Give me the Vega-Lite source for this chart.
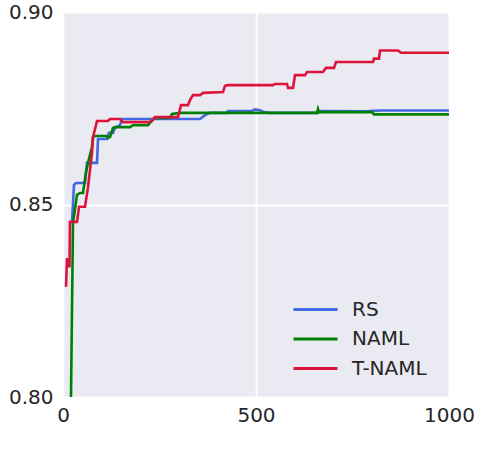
{
  "$schema": "https://vega.github.io/schema/vega-lite/v6.json",
  "autosize": {"type": "none"},
  "padding": {"left": 63, "top": 12, "right": 51, "bottom": 64},
  "width": 386,
  "height": 385,
  "background": "white",
  "config": {
    "font": "DejaVu Sans",
    "view": {"fill": "#EAEAF2", "stroke": null},
    "axis": {
      "domain": false,
      "ticks": false,
      "grid": true,
      "gridColor": "white",
      "gridWidth": 1.8,
      "labelFont": "DejaVu Sans",
      "labelFontSize": 20,
      "labelColor": "#262626",
      "labelFlush": false,
      "title": null
    },
    "legend": {
      "labelFont": "DejaVu Sans",
      "labelFontSize": 20,
      "labelColor": "#262626"
    }
  },
  "data": {
    "values": [
      {"s": "RS", "x": 23.3, "y": 0.8455},
      {"s": "RS", "x": 28.5, "y": 0.8551},
      {"s": "RS", "x": 33.7, "y": 0.8556},
      {"s": "RS", "x": 57, "y": 0.8556},
      {"s": "RS", "x": 62.2, "y": 0.8608},
      {"s": "RS", "x": 88.1, "y": 0.8608},
      {"s": "RS", "x": 90.7, "y": 0.867},
      {"s": "RS", "x": 114, "y": 0.867},
      {"s": "RS", "x": 119.2, "y": 0.8686},
      {"s": "RS", "x": 129.5, "y": 0.8686},
      {"s": "RS", "x": 134.7, "y": 0.8699},
      {"s": "RS", "x": 147.7, "y": 0.8706},
      {"s": "RS", "x": 152.8, "y": 0.8722},
      {"s": "RS", "x": 354.9, "y": 0.8722},
      {"s": "RS", "x": 367.9, "y": 0.8732},
      {"s": "RS", "x": 380.8, "y": 0.8738},
      {"s": "RS", "x": 422.3, "y": 0.8738},
      {"s": "RS", "x": 427.5, "y": 0.8743},
      {"s": "RS", "x": 489.6, "y": 0.8743},
      {"s": "RS", "x": 497.4, "y": 0.8747},
      {"s": "RS", "x": 510.4, "y": 0.8745},
      {"s": "RS", "x": 520.7, "y": 0.874},
      {"s": "RS", "x": 536.3, "y": 0.8738},
      {"s": "RS", "x": 660.6, "y": 0.8738},
      {"s": "RS", "x": 665.8, "y": 0.8743},
      {"s": "RS", "x": 782.4, "y": 0.8742},
      {"s": "RS", "x": 821.2, "y": 0.8744},
      {"s": "RS", "x": 1000, "y": 0.8744},
      {"s": "NAML", "x": 20.7, "y": 0.8},
      {"s": "NAML", "x": 25.9, "y": 0.8452},
      {"s": "NAML", "x": 36.3, "y": 0.8525},
      {"s": "NAML", "x": 44, "y": 0.853},
      {"s": "NAML", "x": 51.8, "y": 0.853},
      {"s": "NAML", "x": 59.6, "y": 0.8584},
      {"s": "NAML", "x": 64.8, "y": 0.8608},
      {"s": "NAML", "x": 75.1, "y": 0.8649},
      {"s": "NAML", "x": 77.7, "y": 0.8675},
      {"s": "NAML", "x": 82.9, "y": 0.8678},
      {"s": "NAML", "x": 114, "y": 0.8678},
      {"s": "NAML", "x": 116.6, "y": 0.8673},
      {"s": "NAML", "x": 121.8, "y": 0.8675},
      {"s": "NAML", "x": 129.5, "y": 0.8699},
      {"s": "NAML", "x": 134.7, "y": 0.8701},
      {"s": "NAML", "x": 173.6, "y": 0.8701},
      {"s": "NAML", "x": 181.3, "y": 0.8706},
      {"s": "NAML", "x": 220.2, "y": 0.8706},
      {"s": "NAML", "x": 225.4, "y": 0.8712},
      {"s": "NAML", "x": 238.3, "y": 0.8725},
      {"s": "NAML", "x": 277.2, "y": 0.8725},
      {"s": "NAML", "x": 282.4, "y": 0.8735},
      {"s": "NAML", "x": 303.1, "y": 0.8738},
      {"s": "NAML", "x": 658, "y": 0.8738},
      {"s": "NAML", "x": 660.6, "y": 0.8748},
      {"s": "NAML", "x": 663, "y": 0.874},
      {"s": "NAML", "x": 800.5, "y": 0.874},
      {"s": "NAML", "x": 805.7, "y": 0.8734},
      {"s": "NAML", "x": 1000, "y": 0.8734},
      {"s": "T-NAML", "x": 7.8, "y": 0.8286},
      {"s": "T-NAML", "x": 10.4, "y": 0.8361},
      {"s": "T-NAML", "x": 14.2, "y": 0.834},
      {"s": "T-NAML", "x": 16.8, "y": 0.834},
      {"s": "T-NAML", "x": 18.1, "y": 0.8455},
      {"s": "T-NAML", "x": 36.3, "y": 0.8455},
      {"s": "T-NAML", "x": 41.5, "y": 0.8494},
      {"s": "T-NAML", "x": 57, "y": 0.8494},
      {"s": "T-NAML", "x": 64.8, "y": 0.8545},
      {"s": "T-NAML", "x": 75.1, "y": 0.8634},
      {"s": "T-NAML", "x": 77.7, "y": 0.8675},
      {"s": "T-NAML", "x": 88.1, "y": 0.8717},
      {"s": "T-NAML", "x": 116.6, "y": 0.8717},
      {"s": "T-NAML", "x": 121.8, "y": 0.8722},
      {"s": "T-NAML", "x": 147.7, "y": 0.8722},
      {"s": "T-NAML", "x": 155.4, "y": 0.8714},
      {"s": "T-NAML", "x": 225.4, "y": 0.8714},
      {"s": "T-NAML", "x": 238.3, "y": 0.8727},
      {"s": "T-NAML", "x": 297.9, "y": 0.8727},
      {"s": "T-NAML", "x": 305.7, "y": 0.8758},
      {"s": "T-NAML", "x": 323.8, "y": 0.8758},
      {"s": "T-NAML", "x": 329, "y": 0.8771},
      {"s": "T-NAML", "x": 336.8, "y": 0.8784},
      {"s": "T-NAML", "x": 354.9, "y": 0.8784},
      {"s": "T-NAML", "x": 362.7, "y": 0.879},
      {"s": "T-NAML", "x": 414.5, "y": 0.8792},
      {"s": "T-NAML", "x": 419.7, "y": 0.8808},
      {"s": "T-NAML", "x": 427.5, "y": 0.881},
      {"s": "T-NAML", "x": 544, "y": 0.881},
      {"s": "T-NAML", "x": 549.2, "y": 0.8813},
      {"s": "T-NAML", "x": 580.3, "y": 0.8813},
      {"s": "T-NAML", "x": 582.9, "y": 0.8803},
      {"s": "T-NAML", "x": 595.9, "y": 0.8803},
      {"s": "T-NAML", "x": 601, "y": 0.8836},
      {"s": "T-NAML", "x": 627, "y": 0.8836},
      {"s": "T-NAML", "x": 632.1, "y": 0.8844},
      {"s": "T-NAML", "x": 673.6, "y": 0.8844},
      {"s": "T-NAML", "x": 681.3, "y": 0.8855},
      {"s": "T-NAML", "x": 702, "y": 0.8855},
      {"s": "T-NAML", "x": 707.3, "y": 0.887},
      {"s": "T-NAML", "x": 803.1, "y": 0.887},
      {"s": "T-NAML", "x": 805.7, "y": 0.8879},
      {"s": "T-NAML", "x": 818.7, "y": 0.8879},
      {"s": "T-NAML", "x": 821.2, "y": 0.89},
      {"s": "T-NAML", "x": 867.9, "y": 0.89},
      {"s": "T-NAML", "x": 875.6, "y": 0.8894},
      {"s": "T-NAML", "x": 1000, "y": 0.8894}
    ]
  },
  "mark": {"type": "line", "strokeWidth": 2.6, "clip": true},
  "encoding": {
    "x": {
      "field": "x",
      "type": "quantitative",
      "scale": {"domain": [0, 1000], "nice": false, "zero": false},
      "axis": {"values": [0, 500, 1000], "format": "d", "labelPadding": 8}
    },
    "y": {
      "field": "y",
      "type": "quantitative",
      "scale": {"domain": [0.8, 0.9], "nice": false, "zero": false},
      "axis": {"values": [0.8, 0.85, 0.9], "format": ".2f", "labelPadding": 10}
    },
    "color": {
      "field": "s",
      "type": "nominal",
      "sort": ["RS", "NAML", "T-NAML"],
      "scale": {"domain": ["RS", "NAML", "T-NAML"], "range": ["#4169E1", "#008000", "#DC143C"]},
      "legend": {
        "title": null,
        "orient": "none",
        "legendX": 240,
        "legendY": 285,
        "symbolType": "M-2,0H2",
        "symbolSize": 484,
        "symbolStrokeWidth": 3,
        "labelOffset": 24,
        "padding": 0,
        "rowPadding": 6.5
      }
    }
  }
}
